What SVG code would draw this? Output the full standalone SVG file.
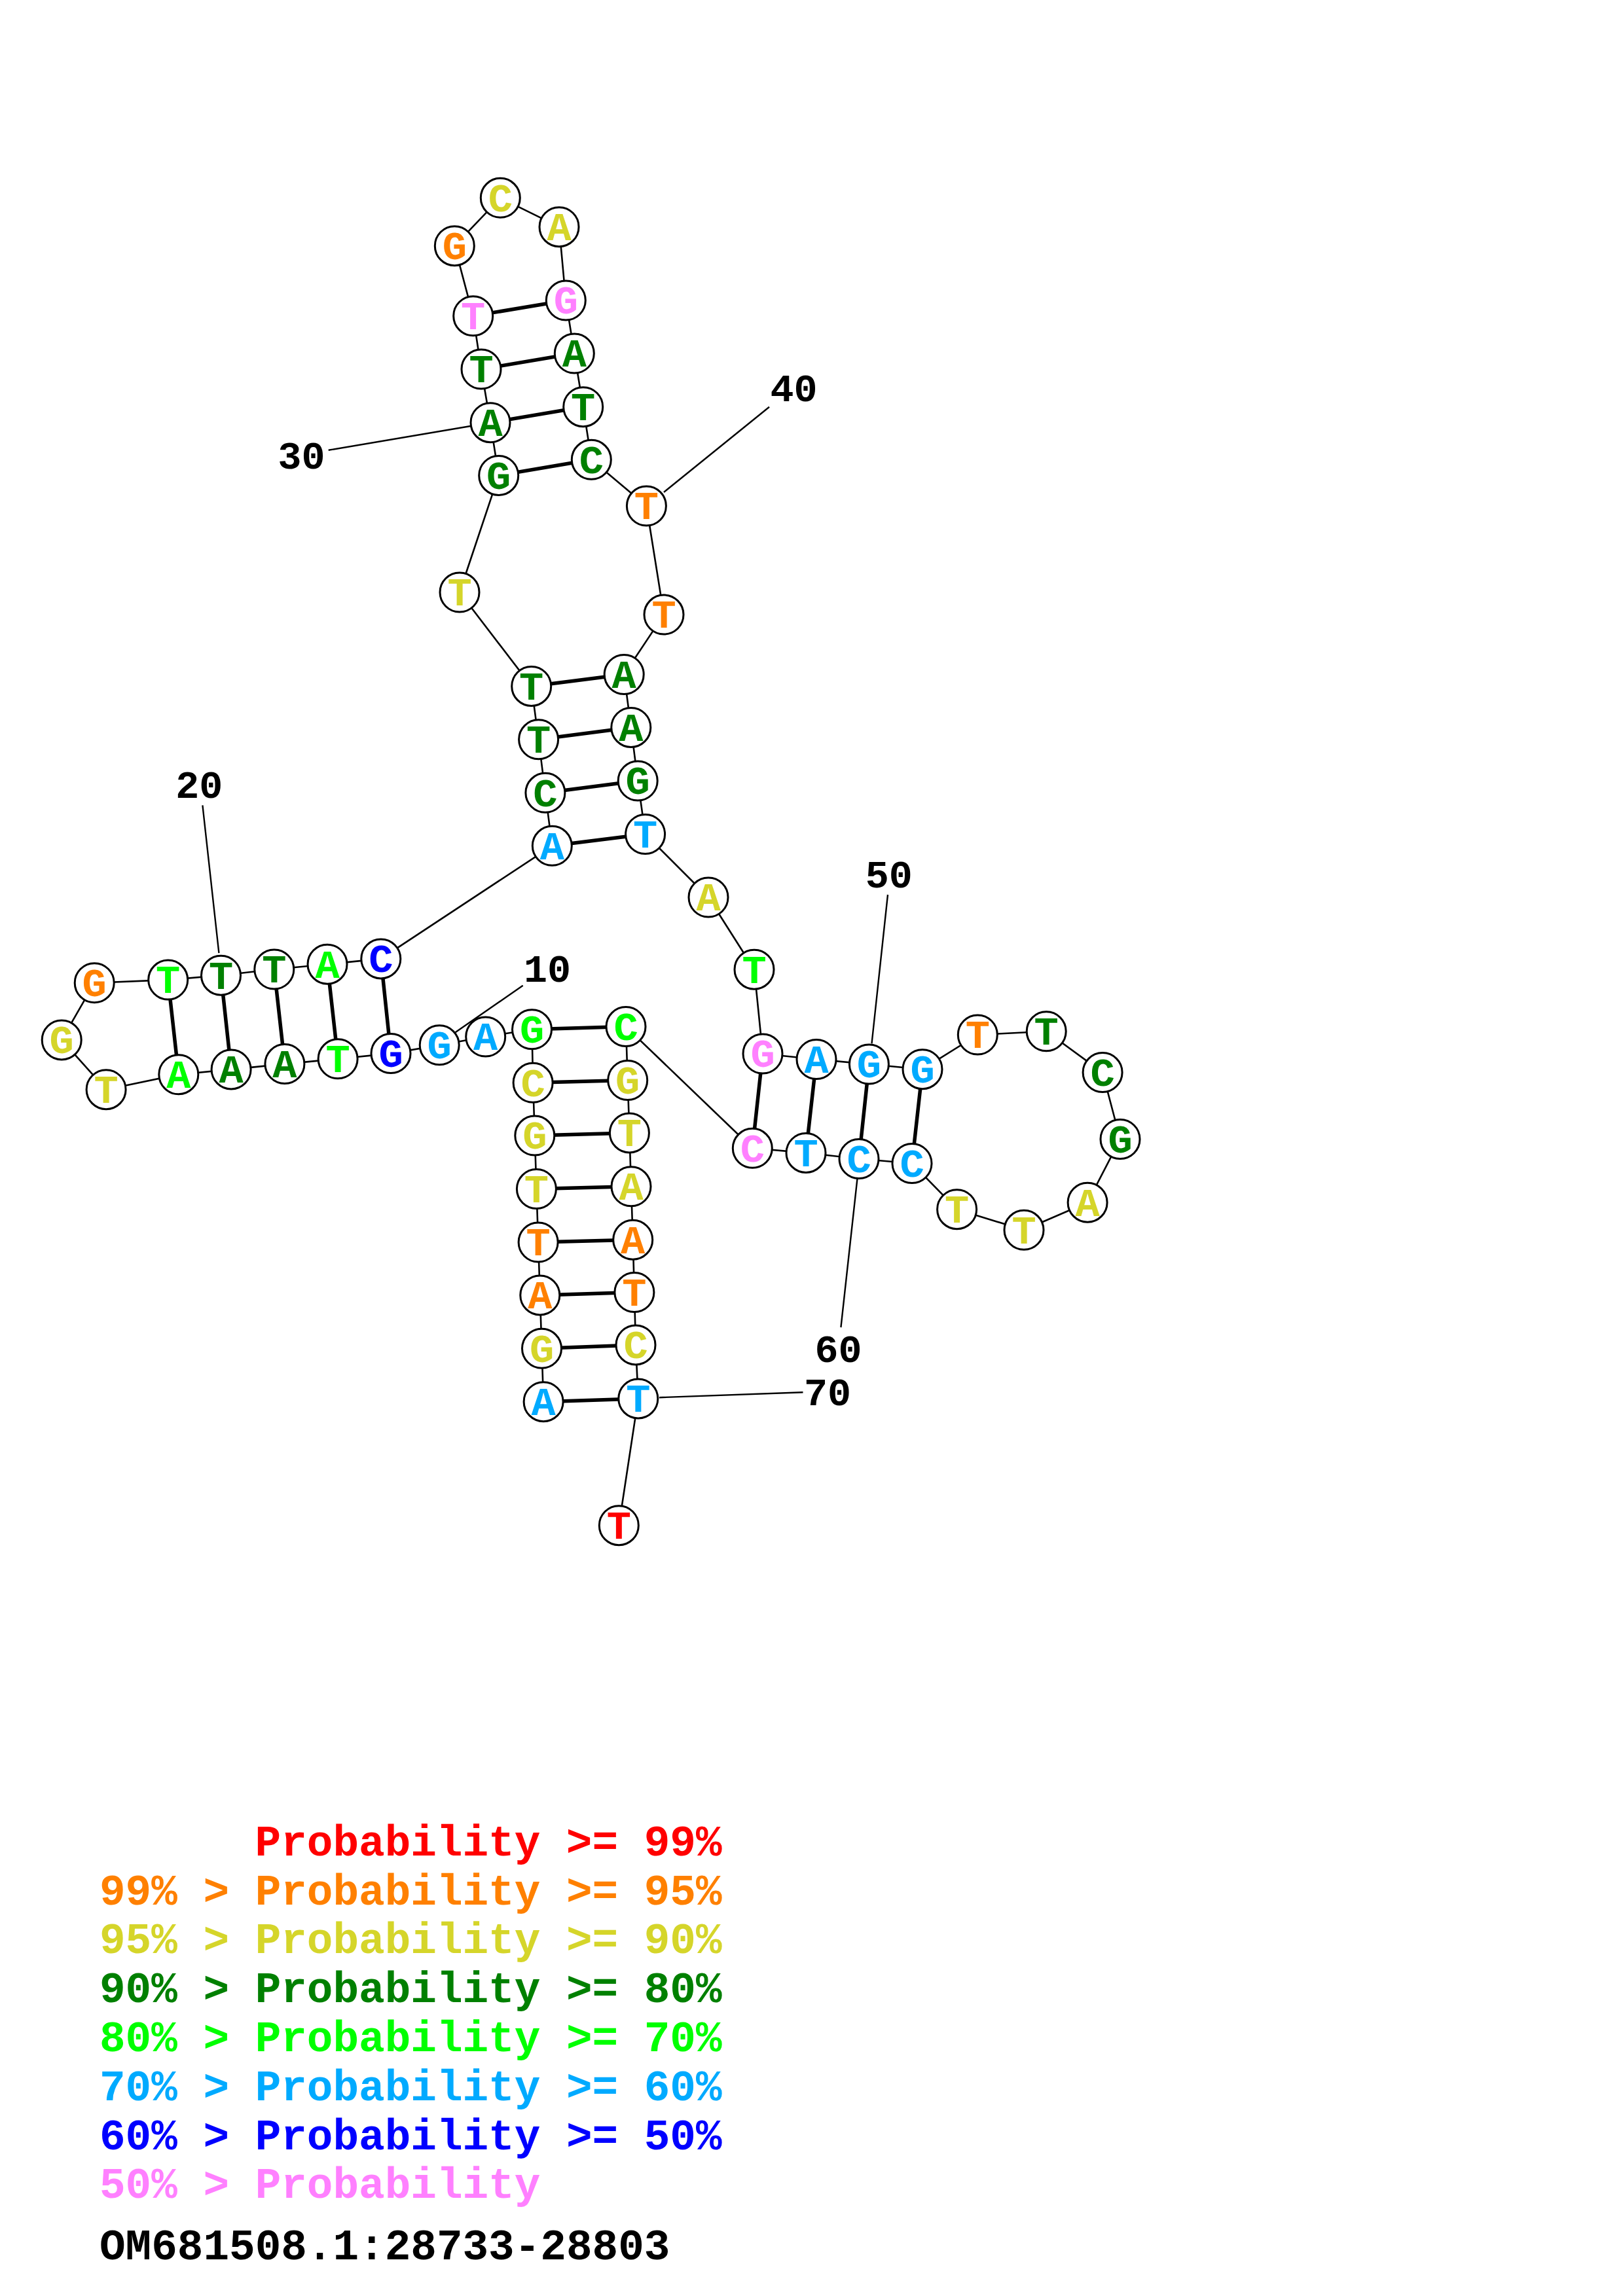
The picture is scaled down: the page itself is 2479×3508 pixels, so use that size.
<svg xmlns="http://www.w3.org/2000/svg" width="2479" height="3508" viewBox="0 0 2479 3508">
<style>
.bb{fill:none;stroke:#000;stroke-width:2.6;stroke-linejoin:round}
.pr{fill:none;stroke:#000;stroke-width:5.5}
.ll{fill:none;stroke:#000;stroke-width:2.4}
circle{fill:#fff;stroke:#000;stroke-width:3}
text{font-family:"Liberation Mono","Courier New",monospace;font-weight:bold}
.n text{font-size:62px;text-anchor:middle}
.num{font-size:60px;text-anchor:middle;fill:#000}
.lg{font-size:66px}
.R{fill:#ff0000}.O{fill:#ff8000}.Y{fill:#d5d52a}.D{fill:#008000}.G{fill:#00ff00}.L{fill:#00aaff}.B{fill:#0000ff}.P{fill:#ff80ff}.K{fill:#000}
</style>
<rect width="2479" height="3508" fill="#fff"/>
<g id="connectors">
<path class="bb" d="M830.1,2141.7 L827.5,2060.3 L824.8,1978.9 L822.1,1898 L819.4,1816.6 L816.8,1735.1 L814.1,1654.3 L812.5,1572.8 L741.7,1584 L671.2,1596.8 L597,1609.6 L516.1,1617.8 L434.9,1625.6 L353.1,1633.9 L272.8,1641.7 L162.1,1664.7 L94.2,1588.9 L144.2,1501.7 L256.7,1497.1 L337.5,1490.2 L418.8,1481 L500,1473.2 L581.8,1464.9 L843.3,1292.3 L832.9,1211.3 L822.6,1129.8 L811.7,1048.4 L702,905 L761.7,726.4 L749,645.7 L735,564 L722.7,482.7 L694.3,375.7 L764.3,302.3 L854,346.7 L864.3,459 L877.3,540 L890.7,621.7 L903.3,702.3 L987.4,773 L1014,939.1 L953.2,1030.5 L963.8,1111.4 L974.2,1193 L985.6,1274.5 L1082,1371 L1152,1481.2 L1165,1610 L1247,1618.5 L1327.4,1626 L1409,1633.7 L1493.3,1581 L1598.2,1575.8 L1684.1,1638.6 L1711,1740.5 L1661.1,1837.2 L1564,1879.3 L1461.6,1847.7 L1393,1777.5 L1312,1770.5 L1231,1761.4 L1149.3,1754.3 L956,1568.6 L958.7,1650.5 L961.4,1730.9 L964,1812.8 L966.7,1894.2 L968.9,1974.6 L971,2054.9 L974.8,2136.9 L945.3,2330.7"/>
<path class="pr" d="M830.1,2141.7 L974.8,2136.9 M827.5,2060.3 L971,2054.9 M824.8,1978.9 L968.9,1974.6 M822.1,1898 L966.7,1894.2 M819.4,1816.6 L964,1812.8 M816.8,1735.1 L961.4,1730.9 M814.1,1654.3 L958.7,1650.5 M812.5,1572.8 L956,1568.6 M597,1609.6 L581.8,1464.9 M516.1,1617.8 L500,1473.2 M434.9,1625.6 L418.8,1481 M353.1,1633.9 L337.5,1490.2 M272.8,1641.7 L256.7,1497.1 M843.3,1292.3 L985.6,1274.5 M832.9,1211.3 L974.2,1193 M822.6,1129.8 L963.8,1111.4 M811.7,1048.4 L953.2,1030.5 M761.7,726.4 L903.3,702.3 M749,645.7 L890.7,621.7 M735,564 L877.3,540 M722.7,482.7 L864.3,459 M1165,1610 L1149.3,1754.3 M1247,1618.5 L1231,1761.4 M1327.4,1626 L1312,1770.5 M1409,1633.7 L1393,1777.5"/>
<path class="ll" d="M798.7,1505.8 L695.6,1577.2 M309.4,1230.4 L334.4,1456.2 M501.7,687.8 L718.7,651 M1175,621.8 L1014,752 M1356,1367 L1331.5,1594.4 M1284.4,2028 L1309.5,1800.5 M1006.9,2135.2 L1226.5,2127.2"/>
</g>
<g class="n">
<g id="n1"><circle cx="830.1" cy="2141.7" r="30"/><text x="830.1" y="2162" class="L">A</text></g>
<g id="n2"><circle cx="827.5" cy="2060.3" r="30"/><text x="827.5" y="2080.6" class="Y">G</text></g>
<g id="n3"><circle cx="824.8" cy="1978.9" r="30"/><text x="824.8" y="1999.2" class="O">A</text></g>
<g id="n4"><circle cx="822.1" cy="1898" r="30"/><text x="822.1" y="1918.3" class="O">T</text></g>
<g id="n5"><circle cx="819.4" cy="1816.6" r="30"/><text x="819.4" y="1836.9" class="Y">T</text></g>
<g id="n6"><circle cx="816.8" cy="1735.1" r="30"/><text x="816.8" y="1755.4" class="Y">G</text></g>
<g id="n7"><circle cx="814.1" cy="1654.3" r="30"/><text x="814.1" y="1674.6" class="Y">C</text></g>
<g id="n8"><circle cx="812.5" cy="1572.8" r="30"/><text x="812.5" y="1593.1" class="G">G</text></g>
<g id="n9"><circle cx="741.7" cy="1584" r="30"/><text x="741.7" y="1604.3" class="L">A</text></g>
<g id="n10"><circle cx="671.2" cy="1596.8" r="30"/><text x="671.2" y="1617.1" class="L">G</text></g>
<g id="n11"><circle cx="597" cy="1609.6" r="30"/><text x="597" y="1629.9" class="B">G</text></g>
<g id="n12"><circle cx="516.1" cy="1617.8" r="30"/><text x="516.1" y="1638.1" class="G">T</text></g>
<g id="n13"><circle cx="434.9" cy="1625.6" r="30"/><text x="434.9" y="1645.9" class="D">A</text></g>
<g id="n14"><circle cx="353.1" cy="1633.9" r="30"/><text x="353.1" y="1654.2" class="D">A</text></g>
<g id="n15"><circle cx="272.8" cy="1641.7" r="30"/><text x="272.8" y="1662" class="G">A</text></g>
<g id="n16"><circle cx="162.1" cy="1664.7" r="30"/><text x="162.1" y="1685" class="Y">T</text></g>
<g id="n17"><circle cx="94.2" cy="1588.9" r="30"/><text x="94.2" y="1609.2" class="Y">G</text></g>
<g id="n18"><circle cx="144.2" cy="1501.7" r="30"/><text x="144.2" y="1522" class="O">G</text></g>
<g id="n19"><circle cx="256.7" cy="1497.1" r="30"/><text x="256.7" y="1517.4" class="G">T</text></g>
<g id="n20"><circle cx="337.5" cy="1490.2" r="30"/><text x="337.5" y="1510.5" class="D">T</text></g>
<g id="n21"><circle cx="418.8" cy="1481" r="30"/><text x="418.8" y="1501.3" class="D">T</text></g>
<g id="n22"><circle cx="500" cy="1473.2" r="30"/><text x="500" y="1493.5" class="G">A</text></g>
<g id="n23"><circle cx="581.8" cy="1464.9" r="30"/><text x="581.8" y="1485.2" class="B">C</text></g>
<g id="n24"><circle cx="843.3" cy="1292.3" r="30"/><text x="843.3" y="1312.6" class="L">A</text></g>
<g id="n25"><circle cx="832.9" cy="1211.3" r="30"/><text x="832.9" y="1231.6" class="D">C</text></g>
<g id="n26"><circle cx="822.6" cy="1129.8" r="30"/><text x="822.6" y="1150.1" class="D">T</text></g>
<g id="n27"><circle cx="811.7" cy="1048.4" r="30"/><text x="811.7" y="1068.7" class="D">T</text></g>
<g id="n28"><circle cx="702" cy="905" r="30"/><text x="702" y="925.3" class="Y">T</text></g>
<g id="n29"><circle cx="761.7" cy="726.4" r="30"/><text x="761.7" y="746.7" class="D">G</text></g>
<g id="n30"><circle cx="749" cy="645.7" r="30"/><text x="749" y="666" class="D">A</text></g>
<g id="n31"><circle cx="735" cy="564" r="30"/><text x="735" y="584.3" class="D">T</text></g>
<g id="n32"><circle cx="722.7" cy="482.7" r="30"/><text x="722.7" y="503" class="P">T</text></g>
<g id="n33"><circle cx="694.3" cy="375.7" r="30"/><text x="694.3" y="396" class="O">G</text></g>
<g id="n34"><circle cx="764.3" cy="302.3" r="30"/><text x="764.3" y="322.6" class="Y">C</text></g>
<g id="n35"><circle cx="854" cy="346.7" r="30"/><text x="854" y="367" class="Y">A</text></g>
<g id="n36"><circle cx="864.3" cy="459" r="30"/><text x="864.3" y="479.3" class="P">G</text></g>
<g id="n37"><circle cx="877.3" cy="540" r="30"/><text x="877.3" y="560.3" class="D">A</text></g>
<g id="n38"><circle cx="890.7" cy="621.7" r="30"/><text x="890.7" y="642" class="D">T</text></g>
<g id="n39"><circle cx="903.3" cy="702.3" r="30"/><text x="903.3" y="722.6" class="D">C</text></g>
<g id="n40"><circle cx="987.4" cy="773" r="30"/><text x="987.4" y="793.3" class="O">T</text></g>
<g id="n41"><circle cx="1014" cy="939.1" r="30"/><text x="1014" y="959.4" class="O">T</text></g>
<g id="n42"><circle cx="953.2" cy="1030.5" r="30"/><text x="953.2" y="1050.8" class="D">A</text></g>
<g id="n43"><circle cx="963.8" cy="1111.4" r="30"/><text x="963.8" y="1131.7" class="D">A</text></g>
<g id="n44"><circle cx="974.2" cy="1193" r="30"/><text x="974.2" y="1213.3" class="D">G</text></g>
<g id="n45"><circle cx="985.6" cy="1274.5" r="30"/><text x="985.6" y="1294.8" class="L">T</text></g>
<g id="n46"><circle cx="1082" cy="1371" r="30"/><text x="1082" y="1391.3" class="Y">A</text></g>
<g id="n47"><circle cx="1152" cy="1481.2" r="30"/><text x="1152" y="1501.5" class="G">T</text></g>
<g id="n48"><circle cx="1165" cy="1610" r="30"/><text x="1165" y="1630.3" class="P">G</text></g>
<g id="n49"><circle cx="1247" cy="1618.5" r="30"/><text x="1247" y="1638.8" class="L">A</text></g>
<g id="n50"><circle cx="1327.4" cy="1626" r="30"/><text x="1327.4" y="1646.3" class="L">G</text></g>
<g id="n51"><circle cx="1409" cy="1633.7" r="30"/><text x="1409" y="1654" class="L">G</text></g>
<g id="n52"><circle cx="1493.3" cy="1581" r="30"/><text x="1493.3" y="1601.3" class="O">T</text></g>
<g id="n53"><circle cx="1598.2" cy="1575.8" r="30"/><text x="1598.2" y="1596.1" class="D">T</text></g>
<g id="n54"><circle cx="1684.1" cy="1638.6" r="30"/><text x="1684.1" y="1658.9" class="D">C</text></g>
<g id="n55"><circle cx="1711" cy="1740.5" r="30"/><text x="1711" y="1760.8" class="D">G</text></g>
<g id="n56"><circle cx="1661.1" cy="1837.2" r="30"/><text x="1661.1" y="1857.5" class="Y">A</text></g>
<g id="n57"><circle cx="1564" cy="1879.3" r="30"/><text x="1564" y="1899.6" class="Y">T</text></g>
<g id="n58"><circle cx="1461.6" cy="1847.7" r="30"/><text x="1461.6" y="1868" class="Y">T</text></g>
<g id="n59"><circle cx="1393" cy="1777.5" r="30"/><text x="1393" y="1797.8" class="L">C</text></g>
<g id="n60"><circle cx="1312" cy="1770.5" r="30"/><text x="1312" y="1790.8" class="L">C</text></g>
<g id="n61"><circle cx="1231" cy="1761.4" r="30"/><text x="1231" y="1781.7" class="L">T</text></g>
<g id="n62"><circle cx="1149.3" cy="1754.3" r="30"/><text x="1149.3" y="1774.6" class="P">C</text></g>
<g id="n63"><circle cx="956" cy="1568.6" r="30"/><text x="956" y="1588.9" class="G">C</text></g>
<g id="n64"><circle cx="958.7" cy="1650.5" r="30"/><text x="958.7" y="1670.8" class="Y">G</text></g>
<g id="n65"><circle cx="961.4" cy="1730.9" r="30"/><text x="961.4" y="1751.2" class="Y">T</text></g>
<g id="n66"><circle cx="964" cy="1812.8" r="30"/><text x="964" y="1833.1" class="Y">A</text></g>
<g id="n67"><circle cx="966.7" cy="1894.2" r="30"/><text x="966.7" y="1914.5" class="O">A</text></g>
<g id="n68"><circle cx="968.9" cy="1974.6" r="30"/><text x="968.9" y="1994.9" class="O">T</text></g>
<g id="n69"><circle cx="971" cy="2054.9" r="30"/><text x="971" y="2075.2" class="Y">C</text></g>
<g id="n70"><circle cx="974.8" cy="2136.9" r="30"/><text x="974.8" y="2157.2" class="L">T</text></g>
<g id="n71"><circle cx="945.3" cy="2330.7" r="30"/><text x="945.3" y="2351" class="R">T</text></g>
</g>
<g id="numbers">
<text class="num" x="835.9" y="1500">10</text>
<text class="num" x="304.3" y="1219">20</text>
<text class="num" x="460.4" y="716">30</text>
<text class="num" x="1212.4" y="613">40</text>
<text class="num" x="1357.7" y="1356">50</text>
<text class="num" x="1280.5" y="2080.5">60</text>
<text class="num" x="1264" y="2147">70</text>
</g>
<g id="legend">
<text class="lg R" x="389.6" y="2835">Probability &gt;= 99%</text>
<text class="lg O" x="152" y="2910">99% &gt; Probability &gt;= 95%</text>
<text class="lg Y" x="152" y="2984">95% &gt; Probability &gt;= 90%</text>
<text class="lg D" x="152" y="3059">90% &gt; Probability &gt;= 80%</text>
<text class="lg G" x="152" y="3134">80% &gt; Probability &gt;= 70%</text>
<text class="lg L" x="152" y="3209">70% &gt; Probability &gt;= 60%</text>
<text class="lg B" x="152" y="3284">60% &gt; Probability &gt;= 50%</text>
<text class="lg P" x="152" y="3358">50% &gt; Probability</text>
<text class="lg K" x="152" y="3452">OM681508.1:28733-28803</text>
</g>
</svg>
